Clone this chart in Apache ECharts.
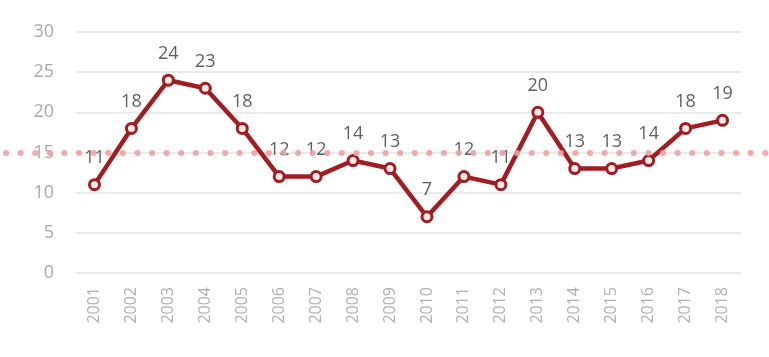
<!DOCTYPE html>
<html><head><meta charset="utf-8">
<script src="https://cdn.jsdelivr.net/npm/echarts@6/dist/echarts.min.js"></script>
<style>html,body{margin:0;padding:0;background:#fff}#c{width:769px;height:357px}</style>
</head><body><div id="c"></div>
<script>
const years = ['2001','2002','2003','2004','2005','2006','2007','2008','2009','2010','2011','2012','2013','2014','2015','2016','2017','2018'];
const values = [11,18,24,23,18,12,12,14,13,7,12,11,20,13,13,14,18,19];
const refLevel = 15;
const yTicks = {min:0, max:30, interval:5};

const chart = echarts.init(document.getElementById('c'));
chart.setOption({
  animation:false,
  textStyle:{fontFamily:'Open Sans'},
  grid:[
    {left:76, right:28, top:32, bottom:84},
    {left:0, right:0, top:32, bottom:84}
  ],
  xAxis:[
    {type:'category', data:years, gridIndex:0,
     axisLine:{show:false}, axisTick:{show:false},
     axisLabel:{rotate:90, color:'#b0b0b0', fontSize:16, margin:14}},
    {type:'category', data:['a'], gridIndex:1, show:false}
  ],
  yAxis:[
    {type:'value', gridIndex:0, min:yTicks.min, max:yTicks.max, interval:yTicks.interval,
     axisLine:{show:false}, axisTick:{show:false},
     axisLabel:{color:'#a8a8a8', fontSize:18, margin:22},
     splitLine:{lineStyle:{color:'#e3e3e3', width:1.5}}},
    {type:'value', gridIndex:1, min:yTicks.min, max:yTicks.max, show:false}
  ],
  series:[
    {type:'line', xAxisIndex:1, yAxisIndex:1, data:[null], symbol:'none', z:1,
     markLine:{silent:true, symbol:'none', label:{show:false},
       lineStyle:{color:'#f2a0a0', type:[0.1,14.5], dashOffset:-6, width:6, cap:'round', opacity:0.9},
       data:[{yAxis:refLevel}]}},
    {type:'line', xAxisIndex:0, yAxisIndex:0, data:values, z:3,
     symbol:'circle', symbolSize:10,
     lineStyle:{color:'#a11d22', width:4.5},
     itemStyle:{color:'#fbeaea', borderColor:'#a11d22', borderWidth:3},
     label:{show:true, position:'top', distance:11, color:'#5f5f5f', fontSize:18}}
  ]
});
</script></body></html>
